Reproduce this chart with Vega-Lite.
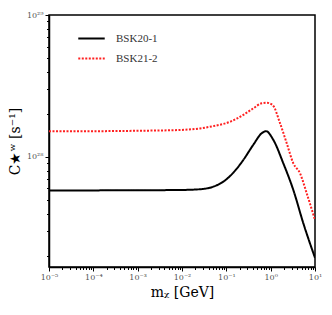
{
  "$schema": "https://vega.github.io/schema/vega-lite/v6.json",
  "autosize": "none",
  "width": 266,
  "height": 252,
  "padding": {"left": 49, "top": 15, "right": 17, "bottom": 48},
  "background": "white",
  "config": {
    "view": {"stroke": "black", "strokeWidth": 1.5},
    "font": "Liberation Serif"
  },
  "data": {"values": [
    {"m": 1e-5, "C": 5.82e27, "model": "BSK20-1"},
    {"m": 1e-4, "C": 5.82e27, "model": "BSK20-1"},
    {"m": 1e-3, "C": 5.83e27, "model": "BSK20-1"},
    {"m": 0.01, "C": 5.86e27, "model": "BSK20-1"},
    {"m": 0.0255, "C": 5.93e27, "model": "BSK20-1"},
    {"m": 0.0508, "C": 6.18e27, "model": "BSK20-1"},
    {"m": 0.0855, "C": 6.70e27, "model": "BSK20-1"},
    {"m": 0.1435, "C": 7.75e27, "model": "BSK20-1"},
    {"m": 0.2415, "C": 9.53e27, "model": "BSK20-1"},
    {"m": 0.406, "C": 1.22e28, "model": "BSK20-1"},
    {"m": 0.628, "C": 1.47e28, "model": "BSK20-1"},
    {"m": 0.785, "C": 1.52e28, "model": "BSK20-1"},
    {"m": 1.148, "C": 1.32e28, "model": "BSK20-1"},
    {"m": 1.928, "C": 9.03e27, "model": "BSK20-1"},
    {"m": 3.243, "C": 5.86e27, "model": "BSK20-1"},
    {"m": 5.458, "C": 3.41e27, "model": "BSK20-1"},
    {"m": 10, "C": 1.95e27, "model": "BSK20-1"},
    {"m": 1e-5, "C": 1.52e28, "model": "BSK21-2"},
    {"m": 1e-4, "C": 1.52e28, "model": "BSK21-2"},
    {"m": 1e-3, "C": 1.53e28, "model": "BSK21-2"},
    {"m": 0.009, "C": 1.55e28, "model": "BSK21-2"},
    {"m": 0.0255, "C": 1.59e28, "model": "BSK21-2"},
    {"m": 0.0508, "C": 1.65e28, "model": "BSK21-2"},
    {"m": 0.121, "C": 1.77e28, "model": "BSK21-2"},
    {"m": 0.2415, "C": 1.98e28, "model": "BSK21-2"},
    {"m": 0.406, "C": 2.20e28, "model": "BSK21-2"},
    {"m": 0.628, "C": 2.39e28, "model": "BSK21-2"},
    {"m": 0.815, "C": 2.41e28, "model": "BSK21-2"},
    {"m": 1.112, "C": 2.32e28, "model": "BSK21-2"},
    {"m": 1.626, "C": 1.73e28, "model": "BSK21-2"},
    {"m": 2.301, "C": 1.25e28, "model": "BSK21-2"},
    {"m": 3.243, "C": 9.03e27, "model": "BSK21-2"},
    {"m": 4.592, "C": 7.68e27, "model": "BSK21-2"},
    {"m": 6.501, "C": 5.55e27, "model": "BSK21-2"},
    {"m": 10, "C": 3.60e27, "model": "BSK21-2"}
  ]},
  "mark": {"type": "line", "strokeWidth": 2, "interpolate": "monotone", "clip": true},
  "encoding": {
    "x": {
      "field": "m", "type": "quantitative",
      "scale": {"type": "log", "domain": [1e-5, 10], "nice": false},
      "axis": {
        "title": "mᵪ [GeV]",
        "titleFont": "DejaVu Serif", "titleFontWeight": "normal", "titleFontSize": 14, "titleColor": "black", "titlePadding": 4,
        "values": [1e-5,2e-5,3e-5,4e-5,5e-5,6e-5,7e-5,8e-5,9e-5,1e-4,2e-4,3e-4,4e-4,5e-4,6e-4,7e-4,8e-4,9e-4,1e-3,2e-3,3e-3,4e-3,5e-3,6e-3,7e-3,8e-3,9e-3,0.01,0.02,0.03,0.04,0.05,0.06,0.07,0.08,0.09,0.1,0.2,0.3,0.4,0.5,0.6,0.7,0.8,0.9,1,2,3,4,5,6,7,8,9,10],
        "labelExpr": "abs(log(datum.value)/LN10+5)<1e-6 ? '10⁻⁵' : abs(log(datum.value)/LN10+4)<1e-6 ? '10⁻⁴' : abs(log(datum.value)/LN10+3)<1e-6 ? '10⁻³' : abs(log(datum.value)/LN10+2)<1e-6 ? '10⁻²' : abs(log(datum.value)/LN10+1)<1e-6 ? '10⁻¹' : abs(log(datum.value)/LN10)<1e-6 ? '10⁰' : abs(log(datum.value)/LN10-1)<1e-6 ? '10¹' : ''",
        "labelFont": "DejaVu Serif", "labelFontSize": 8, "labelColor": "#555", "labelPadding": 2, "labelOverlap": false, "labelFlush": false,
        "tickColor": "black", "tickWidth": 1,
        "tickSize": {"condition": {"test": "abs(log(datum.value)/LN10 - round(log(datum.value)/LN10)) < 1e-6", "value": 4}, "value": 2.5},
        "domainColor": "black", "domainWidth": 1.5, "grid": false
      }
    },
    "y": {
      "field": "C", "type": "quantitative",
      "scale": {"type": "log", "domain": [1.68e27, 1e29], "nice": false},
      "axis": {
        "title": "C★ʷ [s⁻¹]",
        "titleFont": "DejaVu Serif", "titleFontWeight": "normal", "titleFontSize": 14, "titleColor": "black", "titlePadding": 4,
        "values": [2e27,3e27,4e27,5e27,6e27,7e27,8e27,9e27,1e28,2e28,3e28,4e28,5e28,6e28,7e28,8e28,9e28,1e29],
        "labelExpr": "abs(log(datum.value)/LN10-28)<1e-6 ? '10²⁸' : abs(log(datum.value)/LN10-29)<1e-6 ? '10²⁹' : ''",
        "labelFont": "DejaVu Serif", "labelFontSize": 8, "labelColor": "#555", "labelPadding": 2, "labelOverlap": false, "labelFlush": false,
        "tickColor": "black", "tickWidth": 1,
        "tickSize": {"condition": {"test": "abs(log(datum.value)/LN10 - round(log(datum.value)/LN10)) < 1e-6", "value": 4}, "value": 2.5},
        "domainColor": "black", "domainWidth": 1.5, "grid": false
      }
    },
    "color": {
      "field": "model", "type": "nominal",
      "scale": {"domain": ["BSK20-1", "BSK21-2"], "range": ["black", "#ff2020"]},
      "legend": {
        "title": null, "orient": "none", "legendX": 28, "legendY": 9,
        "symbolType": "stroke", "symbolSize": 700, "symbolStrokeWidth": 2,
        "labelFont": "Liberation Serif", "labelFontSize": 11, "labelColor": "#333", "labelOffset": 10,
        "rowPadding": -9
      }
    },
    "strokeDash": {
      "field": "model", "type": "nominal",
      "scale": {"domain": ["BSK20-1", "BSK21-2"], "range": [[1, 0], [2, 1.5]]},
      "legend": null
    }
  }
}
